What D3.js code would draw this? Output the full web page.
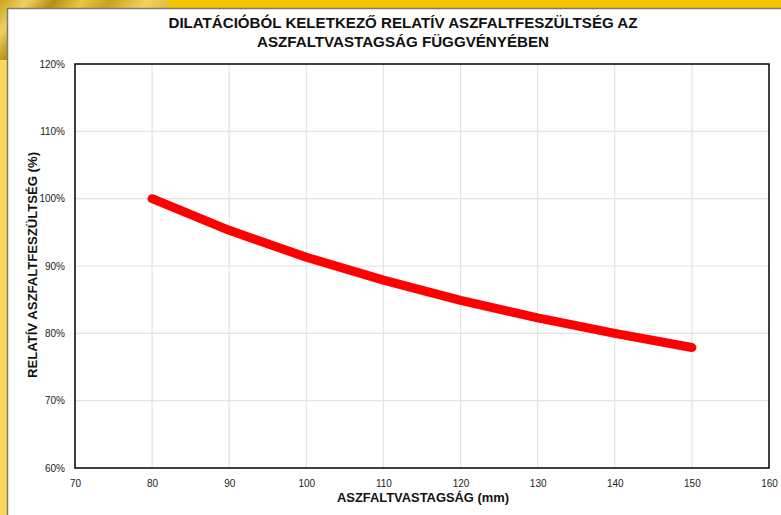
<!DOCTYPE html>
<html><head><meta charset="utf-8">
<script src="https://cdn.jsdelivr.net/npm/d3@7"></script>
<style>body{margin:0;background:#fff}svg{display:block}</style>
</head><body>
<svg id="c" width="781" height="515"></svg>
<script>
const thickness = [80, 90, 100, 110, 120, 130, 140, 150];
const relStress = [100, 95.3, 91.3, 87.9, 84.9, 82.3, 80.0, 77.9];
const xTicks = [70, 80, 90, 100, 110, 120, 130, 140, 150, 160];
const yTicks = [60, 70, 80, 90, 100, 110, 120];
const titleLines = ["DILATÁCIÓBÓL KELETKEZŐ RELATÍV ASZFALTFESZÜLTSÉG AZ", "ASZFALTVASTAGSÁG FÜGGVÉNYÉBEN"];
const xTitle = "ASZFALTVASTAGSÁG (mm)";
const yTitle = "RELATÍV ASZFALTFESZÜLTSÉG (%)";

const svg = d3.select("#c");
const font = "'Liberation Sans', Arial, sans-serif";

// background frame
const defs = svg.append("defs");
const g1 = defs.append("linearGradient").attr("id","gold").attr("x1","0").attr("y1","0").attr("x2","1").attr("y2","0.3");
[["0","#c9a31a"],["0.15","#f0d060"],["0.3","#b8900f"],["0.45","#e8c840"],["0.6","#caa222"],["0.8","#f2d35a"],["1","#d8b030"]]
  .forEach(([o,c])=>g1.append("stop").attr("offset",o).attr("stop-color",c));
svg.append("rect").attr("x",0).attr("y",0).attr("width",781).attr("height",515).attr("fill","#fbd75b");
svg.append("rect").attr("x",0).attr("y",0).attr("width",170).attr("height",60).attr("fill","url(#gold)");
svg.append("rect").attr("x",168).attr("y",0).attr("width",613).attr("height",8).attr("fill","#f5c400");
svg.append("rect").attr("x",7.5).attr("y",8.5).attr("width",790).attr("height",520).attr("fill","#fff").attr("stroke","#7a7a7a").attr("stroke-width",1.5);

const L=75, R=769, T=64, B=468;
const x = d3.scaleLinear().domain([70,160]).range([L,R]);
const y = d3.scaleLinear().domain([60,120]).range([B,T]);

// grid
svg.append("g").selectAll("line").data(xTicks.slice(1,-1)).join("line")
  .attr("x1",d=>x(d)).attr("x2",d=>x(d)).attr("y1",T).attr("y2",B)
  .attr("stroke","#e3e3e3").attr("stroke-width",1.2);
svg.append("g").selectAll("line").data(yTicks.slice(1,-1)).join("line")
  .attr("x1",L).attr("x2",R).attr("y1",d=>y(d)).attr("y2",d=>y(d))
  .attr("stroke","#e3e3e3").attr("stroke-width",1.2);

// axes
const xa = svg.append("g").attr("transform",`translate(0,${B})`)
  .call(d3.axisBottom(x).tickValues(xTicks).tickSize(0).tickPadding(12));
const ya = svg.append("g").attr("transform",`translate(${L},0)`)
  .call(d3.axisLeft(y).tickValues(yTicks).tickSize(0).tickPadding(10).tickFormat(d=>d+"%"));
[xa,ya].forEach(a=>{a.select(".domain").remove();a.selectAll("text").attr("font-family",font).attr("font-size",10).attr("fill","#222");});

// border
svg.append("rect").attr("x",L).attr("y",T).attr("width",R-L).attr("height",B-T)
  .attr("fill","none").attr("stroke","#000").attr("stroke-width",1.5);

// line
const line = d3.line().x((d,i)=>x(thickness[i])).y(d=>y(d));
svg.append("path").datum(relStress).attr("d",line).attr("fill","none")
  .attr("stroke","#ff0000").attr("stroke-width",9).attr("stroke-linecap","round").attr("stroke-linejoin","round");

// titles
const tw=[469,292];
titleLines.forEach((t,i)=>{
  svg.append("text").attr("x",403).attr("y",28+i*19).attr("text-anchor","middle")
    .attr("font-family",font).attr("font-weight","bold").attr("font-size",15).attr("fill","#111")
    .attr("textLength",tw[i]).attr("lengthAdjust","spacingAndGlyphs").text(t);
});
svg.append("text").attr("x",423).attr("y",502).attr("text-anchor","middle")
  .attr("font-family",font).attr("font-weight","bold").attr("font-size",13).attr("fill","#111")
  .attr("textLength",172).attr("lengthAdjust","spacingAndGlyphs").text(xTitle);
svg.append("text").attr("transform","translate(37,265) rotate(-90)").attr("text-anchor","middle")
  .attr("font-family",font).attr("font-weight","bold").attr("font-size",13).attr("fill","#111")
  .attr("textLength",226).attr("lengthAdjust","spacingAndGlyphs").text(yTitle);
</script>
</body></html>
